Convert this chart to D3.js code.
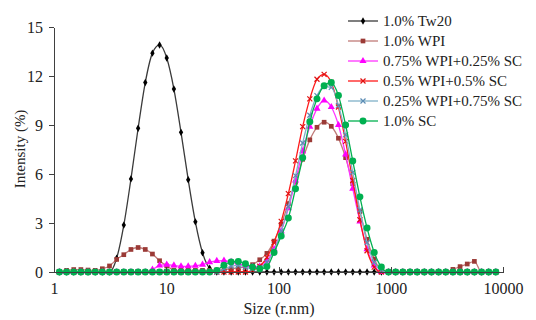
<!DOCTYPE html>
<html lang="en">
<head>
    <meta charset="UTF-8">
    <title>Intensity vs size</title>
    <script src="https://cdnjs.cloudflare.com/ajax/libs/d3/7.8.5/d3.min.js"></script>
    <style>
        body { margin: 0; background: #fff; }
        svg text { font-family: "Liberation Serif", "Times New Roman", serif; fill: #222; }
        svg g.axis path, svg g.axis line { stroke: #404040; shape-rendering: crispEdges; }
    </style>
</head>
<body>
    <script>
        //size classes (r.nm)
        var sizes = [1.117, 1.294, 1.499, 1.736, 2.01, 2.328, 2.696, 3.122, 3.615, 4.187,
                     4.849, 5.615, 6.503, 7.531, 8.721, 10.1, 11.7, 13.54, 15.69, 18.17,
                     21.04, 24.36, 28.21, 32.67, 37.84, 43.82, 50.75, 58.77, 68.06, 78.82,
                     91.28, 105.7, 122.4, 141.8, 164.2, 190.1, 220.2, 255.0, 295.3, 342.0,
                     396.1, 458.7, 531.2, 615.1, 712.4, 825.0, 955.4, 1106, 1281, 1484,
                     1718, 1990, 2305, 2669, 3091, 3580, 4145, 4801, 5560, 6439,
                     7456, 8635];

        //intensity (%) for each size class
        var tw20 = [0, 0, 0, 0, 0, 0, 0, 0, 0.84, 2.87,
                    5.7, 8.8, 11.6, 13.4, 13.9, 13.1, 11.2, 8.55, 5.65, 3.07,
                    1.18, 0.23, 0, 0, 0, 0, 0, 0, 0, 0,
                    0, 0, 0, 0, 0, 0, 0, 0, 0, 0,
                    0, 0, 0, 0, 0, 0, 0, 0, 0, 0,
                    0, 0, 0, 0, 0, 0, 0, 0, 0, 0,
                    0, 0];
        var wpi = [0, 0.1, 0.15, 0.15, 0.12, 0.1, 0.2, 0.37, 0.77, 1.06,
                   1.38, 1.5, 1.38, 1.1, 0.69, 0.37, 0.12, 0.1, 0.1, 0.1,
                   0.1, 0.1, 0.12, 0.15, 0.2, 0.25, 0.3, 0.45, 0.75, 1.14,
                   1.89, 2.93, 4.19, 5.5, 6.9, 8.09, 8.86, 9.17, 8.92, 8.19,
                   7.0, 5.4, 3.7, 2.0, 0.8, 0.1, 0, 0, 0, 0,
                   0, 0, 0, 0, 0, 0.16, 0.33, 0.49, 0.65, 0,
                   0, 0];
        var wpi75 = [0, 0, 0, 0, 0, 0, 0, 0, 0, 0,
                     0, 0, 0, 0.15, 0.4, 0.45, 0.4, 0.35, 0.35, 0.38,
                     0.45, 0.6, 0.68, 0.7, 0.62, 0.52, 0.4, 0.32, 0.35, 0.7,
                     1.4, 2.5, 3.9, 5.6, 7.4, 8.9, 10.0, 10.5, 10.1, 9.0,
                     7.2, 5.1, 3.1, 1.4, 0.4, 0, 0, 0, 0, 0,
                     0, 0, 0, 0, 0, 0, 0, 0, 0, 0,
                     0, 0];
        var wpi50 = [0, 0, 0, 0, 0, 0, 0, 0, 0, 0,
                     0, 0, 0, 0, 0, 0, 0, 0, 0, 0,
                     0, 0, 0, 0, 0, 0, 0, 0.1, 0.35, 0.9,
                     1.8, 3.1, 4.8, 6.8, 8.9, 10.6, 11.8, 12.1, 11.6, 10.1,
                     8.0, 5.6, 3.2, 1.3, 0.3, 0, 0, 0, 0, 0,
                     0, 0, 0, 0, 0, 0, 0, 0, 0, 0,
                     0, 0];
        var wpi25 = [0, 0, 0, 0, 0, 0, 0, 0, 0, 0,
                     0, 0, 0, 0, 0, 0, 0, 0, 0, 0,
                     0, 0, 0, 0.2, 0.35, 0.4, 0.3, 0.2, 0.25, 0.6,
                     1.3, 2.5, 4.0, 5.9, 7.9, 9.6, 10.8, 11.35, 11.3, 10.2,
                     8.4, 6.1, 3.8, 1.8, 0.6, 0.1, 0, 0, 0, 0,
                     0, 0, 0, 0, 0, 0, 0, 0, 0, 0,
                     0, 0];
        var sc = [0, 0, 0, 0, 0, 0, 0, 0, 0, 0,
                  0, 0, 0, 0, 0, 0, 0, 0, 0, 0,
                  0, 0, 0.1, 0.42, 0.62, 0.65, 0.5, 0.3, 0.2, 0.33,
                  1.2, 2.2, 3.3, 5.1, 7.0, 9.2, 10.6, 11.4, 11.6, 10.8,
                  9.0, 6.8, 4.6, 2.7, 1.2, 0.3, 0, 0, 0, 0,
                  0, 0, 0, 0, 0, 0, 0, 0, 0, 0,
                  0, 0];

        var seriesNames = ['1.0% Tw20', '1.0% WPI', '0.75% WPI+0.25% SC',
                           '0.5% WPI+0.5% SC', '0.25% WPI+0.75% SC', '1.0% SC'];
        var seriesValues = [tw20, wpi, wpi75, wpi50, wpi25, sc];

        var xTicks = [1, 10, 100, 1000, 10000];
        var yTicks = [0, 3, 6, 9, 12, 15];

        //look of each series
        var styles = [
            {line: '#3a3a3a', fill: '#000000', stroke: 'none', symbol: d3.symbolDiamond, size: 16},
            {line: '#c07a78', fill: '#9b3a36', stroke: 'none', symbol: d3.symbolSquare, size: 22},
            {line: '#ff33ff', fill: '#ff00ff', stroke: 'none', symbol: d3.symbolTriangle, size: 22},
            {line: '#ff1a1a', fill: 'none', stroke: '#e01010', symbol: d3.symbolTimes || d3.symbolCross, size: 18},
            {line: '#7fb0c8', fill: 'none', stroke: '#5b8cb4', symbol: d3.symbolTimes || d3.symbolCross, size: 18},
            {line: '#00b050', fill: '#00b050', stroke: 'none', symbol: d3.symbolCircle, size: 38}
        ];

        var w = 536;
        var h = 320;

        var xScale = d3.scaleLog()
                        .domain([1, 10000])
                        .range([54, 503]);

        var yScale = d3.scaleLinear()
                        .domain([0, 15])
                        .range([272, 27]);

        var svg = d3.select('body')
                    .append('svg')
                    .attr('width', w)
                    .attr('height', h);

        //series lines and markers
        var line = d3.line()
                    .x(function(d) { return xScale(d[0]); })
                    .y(function(d) { return yScale(d[1]); })
                    .curve(d3.curveMonotoneX);

        seriesValues.forEach(function(vals, i) {
            var pts = sizes.map(function(s, j) { return [s, vals[j]]; });
            var st = styles[i];
            var g = svg.append('g');
            g.append('path')
                .datum(pts)
                .attr('d', line)
                .attr('fill', 'none')
                .attr('stroke', st.line)
                .attr('stroke-width', 1.3);
            g.selectAll('path.mark')
                .data(pts)
                .enter()
                .append('path')
                .attr('class', 'mark')
                .attr('d', d3.symbol().type(st.symbol).size(st.size))
                .attr('transform', function(d) {
                    return 'translate(' + xScale(d[0]) + ',' + yScale(d[1]) + ')';
                })
                .attr('fill', st.fill)
                .attr('stroke', st.stroke)
                .attr('stroke-width', 1.2);
        });

        //axes
        var xAxis = d3.axisBottom(xScale)
                        .tickValues(xTicks)
                        .tickFormat(d3.format('d'))
                        .tickSizeInner(-5)
                        .tickSizeOuter(0)
                        .tickPadding(11);

        var yAxis = d3.axisLeft(yScale)
                        .tickValues(yTicks)
                        .tickFormat(d3.format('d'))
                        .tickSizeInner(5)
                        .tickSizeOuter(0)
                        .tickPadding(6);

        svg.append('g')
            .attr('class', 'axis')
            .attr('transform', 'translate(0,272)')
            .call(xAxis)
            .selectAll('text')
            .attr('font-size', '16px')
            .attr('font-family', null);

        svg.append('g')
            .attr('class', 'axis')
            .attr('transform', 'translate(54,0)')
            .call(yAxis)
            .selectAll('text')
            .attr('font-size', '16px')
            .attr('font-family', null);

        svg.selectAll('g.axis text').style('fill', '#222');

        //axis titles
        svg.append('text')
            .attr('x', 279)
            .attr('y', 314)
            .attr('text-anchor', 'middle')
            .attr('font-size', '16px')
            .text('Size (r.nm)');

        svg.append('text')
            .attr('transform', 'translate(25,149) rotate(-90)')
            .attr('text-anchor', 'middle')
            .attr('font-size', '15px')
            .text('Intensity (%)');

        //legend
        var legend = svg.append('g');
        seriesNames.forEach(function(name, i) {
            var st = styles[i];
            var yy = 21 + i * 20;
            legend.append('line')
                .attr('x1', 348).attr('x2', 378)
                .attr('y1', yy).attr('y2', yy)
                .attr('stroke', st.line)
                .attr('stroke-width', 1.3);
            legend.append('path')
                .attr('d', d3.symbol().type(st.symbol).size(st.size))
                .attr('transform', 'translate(363,' + yy + ')')
                .attr('fill', st.fill)
                .attr('stroke', st.stroke)
                .attr('stroke-width', 1.2);
            legend.append('text')
                .attr('x', 383)
                .attr('y', yy + 5)
                .attr('font-size', '15px')
                .text(name);
        });
    </script>
</body>
</html>
